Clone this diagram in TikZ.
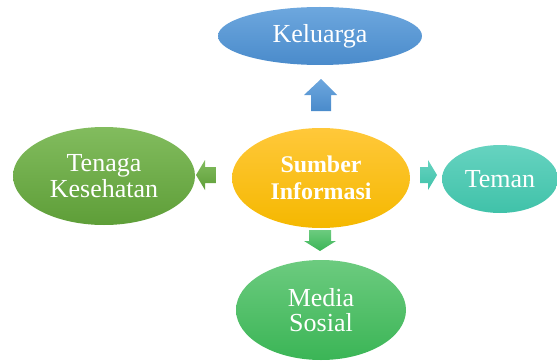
\documentclass[tikz,border=0pt]{standalone}
\usepackage{fontspec}
\setmainfont{Liberation Serif}
\usepackage{tikz}
\usetikzlibrary{shapes.geometric}

\definecolor{bluetop}{HTML}{6DA7DE}
\definecolor{bluebot}{HTML}{4A8BCB}
\definecolor{orangetop}{HTML}{FFC83A}
\definecolor{orangebot}{HTML}{F5B800}
\definecolor{leaftop}{HTML}{82BC5E}
\definecolor{leafbot}{HTML}{5E9E38}
\definecolor{tealtop}{HTML}{66D3C0}
\definecolor{tealbot}{HTML}{40C2A9}
\definecolor{grasstop}{HTML}{6CCB7F}
\definecolor{grassbot}{HTML}{3BB556}

\tikzset{
  bubble/.style={ellipse, inner sep=0pt, text=white, align=center,
    font=\fontsize{18.5}{18}\selectfont},
}

\begin{document}
\begin{tikzpicture}
    \useasboundingbox (0,0) rectangle (13.925,9);

    % ellipses
    \node[bubble, top color=bluetop, bottom color=bluebot,
      minimum width=51mm, minimum height=14.5mm] (keluarga) at (8.0,8.1) {Keluarga};
    \node[bubble, top color=orangetop, bottom color=orangebot,
      minimum width=44.5mm, minimum height=25mm,
      font=\fontsize{17}{19}\selectfont\bfseries] (sumber) at (8.025,4.55) {Sumber\\Informasi};
    \node[bubble, top color=leaftop, bottom color=leafbot,
      minimum width=45.5mm, minimum height=24.5mm] (tenaga) at (2.6,4.6) {Tenaga\\Kesehatan};
    \node[bubble, top color=tealtop, bottom color=tealbot,
      minimum width=29mm, minimum height=17mm] (teman) at (12.5,4.525) {Teman};
    \node[bubble, top color=grasstop, bottom color=grassbot,
      minimum width=42.5mm, minimum height=25mm] (media) at (8.025,1.25) {Media\\Sosial};

    % block arrows
    \shade[top color=bluetop, bottom color=bluebot]
      (8.025,7.025) -- (8.425,6.625) -- (8.275,6.625) -- (8.275,6.225)
      -- (7.775,6.225) -- (7.775,6.625) -- (7.6,6.625) -- cycle;
    \shade[top color=grasstop, bottom color=grassbot]
      (8.0,2.725) -- (8.4,2.975) -- (8.275,2.975) -- (8.275,3.25)
      -- (7.725,3.25) -- (7.725,2.975) -- (7.6,2.975) -- cycle;
    \shade[top color=leaftop, bottom color=leafbot]
      (4.9,4.625) -- (5.125,5.0) -- (5.125,4.825) -- (5.4,4.825)
      -- (5.4,4.425) -- (5.125,4.425) -- (5.125,4.25) -- cycle;
    \shade[top color=tealtop, bottom color=tealbot]
      (10.925,4.625) -- (10.7,5.0) -- (10.7,4.825) -- (10.5,4.825)
      -- (10.5,4.425) -- (10.7,4.425) -- (10.7,4.25) -- cycle;
\end{tikzpicture}
\end{document}
